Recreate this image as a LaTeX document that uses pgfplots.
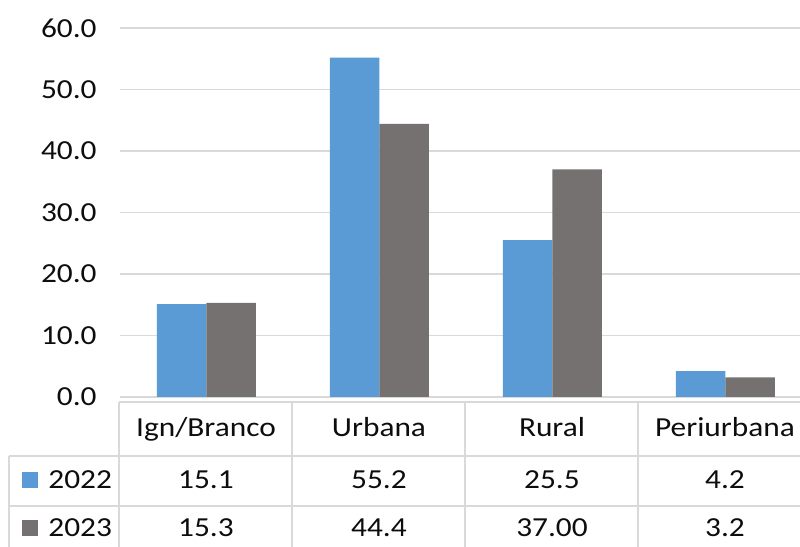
\documentclass[border=0pt]{standalone}
\usepackage{pgfplots}
\pgfplotsset{compat=1.18}
\usepackage{fontspec}
\setmainfont{Carlito}[FakeStretch=1.14]
\definecolor{cblue}{HTML}{5B9BD5}
\definecolor{cgray}{HTML}{767171}
\definecolor{cgrid}{HTML}{D9D9D9}
\definecolor{ctext}{HTML}{0D0D0D}
\begin{document}
\fontsize{13.75pt}{16pt}\selectfont
\begin{tikzpicture}[x=1pt,y=1pt]
\useasboundingbox (0,0) rectangle (400,273.5);
\clip (0,0) rectangle (400,273.5);
\begin{axis}[
  at={(60pt,75pt)}, anchor=south west,
  scale only axis, width=346pt, height=184.5pt,
  xmin=-0.5, xmax=3.5, ymin=0, ymax=60,
  ytick={0,10,...,60}, xtick=\empty,
  ymajorgrids, grid style={cgrid, line width=0.75pt},
  axis lines*=left,
  y axis line style={draw=none},
  x axis line style={draw=cgrid, line width=0.75pt},
  major tick length=0pt,
  clip=false,
  yticklabel style={/pgf/number format/fixed, /pgf/number format/fixed zerofill,
    /pgf/number format/precision=1, /pgf/number format/assume math mode=true,
    inner sep=0pt, xshift=-11.5pt, text=ctext, font=\fontsize{13.75pt}{16pt}\selectfont},
]
\addplot[ybar, bar width=24.75pt, bar shift=-12.375pt, fill=cblue, draw=none]
  coordinates {(0,15.1) (1,55.2) (2,25.5) (3,4.2)};
\addplot[ybar, bar width=24.75pt, bar shift=12.375pt, fill=cgray, draw=none]
  coordinates {(0,15.3) (1,44.4) (2,37.0) (3,3.2)};
\end{axis}
% data table grid
\draw[cgrid, line width=0.75pt] (59.5,72.5) -- (400,72.5);
\draw[cgrid, line width=0.75pt] (4.5,45.5) -- (400,45.5);
\draw[cgrid, line width=0.75pt] (4.5,20.5) -- (400,20.5);
\foreach \xx in {59.5,146,232.5,319} \draw[cgrid, line width=0.75pt] (\xx,72.5) -- (\xx,0);
\draw[cgrid, line width=0.75pt] (4.5,45.5) -- (4.5,0);
% header row
\begin{scope}[every node/.style={text=ctext, inner sep=0pt, anchor=base}]
\node at (103,55) {Ign/Branco};
\node at (189.5,55) {Urbana};
\node at (276,55) {Rural};
\node at (362.5,55) {Periurbana};
\node at (103,29) {15.1};
\node at (189.5,29) {55.2};
\node at (276,29) {25.5};
\node at (362.5,29) {4.2};
\node at (103,5) {15.3};
\node at (189.5,5) {44.4};
\node at (276,5) {37.00};
\node at (362.5,5) {3.2};
\node[anchor=base west] at (24,29) {2022};
\node[anchor=base west] at (24,5) {2023};
\end{scope}
\fill[cblue] (11,29.5) rectangle (19,37.5);
\fill[cgray] (11,5.5) rectangle (19,13.5);
\end{tikzpicture}
\end{document}
